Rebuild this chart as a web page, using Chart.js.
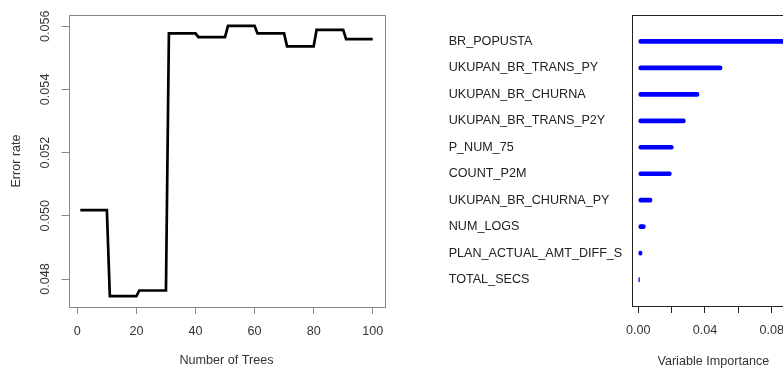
<!DOCTYPE html>
<html>
<head>
<meta charset="utf-8">
<script src="https://cdn.jsdelivr.net/npm/chart.js@4/dist/chart.umd.min.js"></script>
<style>
  html, body { margin: 0; padding: 0; background: #fff; overflow: hidden; }
  #wrap { position: relative; width: 783px; height: 370px; overflow: hidden; }
  #errChart { position: absolute; left: 0; top: 0; }
  #impChart { position: absolute; left: 390px; top: 0; }
</style>
</head>
<body>
<div id="wrap">
  <canvas id="errChart" width="390" height="370"></canvas>
  <canvas id="impChart" width="420" height="370"></canvas>
</div>
<script>
// OOB error rate for each number of trees (1..100)
const errorRate = [
    0.05018, 0.05018, 0.05018, 0.05018, 0.05018, 0.05018, 0.05018, 0.05018, 0.05018, 0.05018,
    0.04746, 0.04746, 0.04746, 0.04746, 0.04746, 0.04746, 0.04746, 0.04746, 0.04746, 0.04746,
    0.04764, 0.04764, 0.04764, 0.04764, 0.04764, 0.04764, 0.04764, 0.04764, 0.04764, 0.04764,
    0.05577, 0.05577, 0.05577, 0.05577, 0.05577, 0.05577, 0.05577, 0.05577, 0.05577, 0.05577,
    0.05565, 0.05565, 0.05565, 0.05565, 0.05565, 0.05565, 0.05565, 0.05565, 0.05565, 0.05565,
    0.05601, 0.05601, 0.05601, 0.05601, 0.05601, 0.05601, 0.05601, 0.05601, 0.05601, 0.05601,
    0.05577, 0.05577, 0.05577, 0.05577, 0.05577, 0.05577, 0.05577, 0.05577, 0.05577, 0.05577,
    0.05536, 0.05536, 0.05536, 0.05536, 0.05536, 0.05536, 0.05536, 0.05536, 0.05536, 0.05536,
    0.05588, 0.05588, 0.05588, 0.05588, 0.05588, 0.05588, 0.05588, 0.05588, 0.05588, 0.05588,
    0.05559, 0.05559, 0.05559, 0.05559, 0.05559, 0.05559, 0.05559, 0.05559, 0.05559, 0.05559
];
const treeTicks = [0, 20, 40, 60, 80, 100];
const errorTicks = [0.048, 0.050, 0.052, 0.054, 0.056];

// variable importance, top to bottom
const varNames = [
    'BR_POPUSTA', 'UKUPAN_BR_TRANS_PY', 'UKUPAN_BR_CHURNA', 'UKUPAN_BR_TRANS_P2Y',
    'P_NUM_75', 'COUNT_P2M', 'UKUPAN_BR_CHURNA_PY', 'NUM_LOGS',
    'PLAN_ACTUAL_AMT_DIFF_S', 'TOTAL_SECS'
];
const importance = [0.0900, 0.0502, 0.0364, 0.0282, 0.0210, 0.0198, 0.0082, 0.0042, 0.0022, 0.0007];
const importanceTicks = [0, 0.02, 0.04, 0.06, 0.08];

const FONT = { family: '"Liberation Sans", Arial, sans-serif', size: 12.6 };
const TEXT = '#333';

// R style box around the plot region
const boxPlugin = {
    id: 'box',
    afterDraw(chart, args, opts) {
        const a = chart.chartArea;
        const ctx = chart.ctx;
        ctx.save();
        ctx.strokeStyle = opts.color;
        ctx.lineWidth = 1;
        ctx.strokeRect(Math.round(a.left) + 0.5, Math.round(a.top) + 0.5,
            Math.round(a.right - a.left), Math.round(a.bottom - a.top));
        ctx.restore();
    }
};

// fixed axis size, and no extra room for overhanging labels
function fixSize(w, h) {
    return s => {
        if (w) s.width = w;
        if (h) s.height = h;
        s.paddingLeft = s.paddingRight = s.paddingTop = s.paddingBottom = 0;
    };
}

// pad range by 4% like R does
function rRange(lo, hi) {
    const d = (hi - lo) * 0.04;
    return [lo - d, hi + d];
}

const n = errorRate.length;
const xr = rRange(1, n);
const yr = rRange(Math.min(...errorRate), Math.max(...errorRate));

new Chart(document.getElementById('errChart'), {
    type: 'line',
    data: {
        datasets: [{
            data: errorRate.map((v, i) => ({ x: i + 1, y: v })),
            borderColor: '#000',
            borderWidth: 2.7,
            pointRadius: 0,
            tension: 0,
            fill: false
        }]
    },
    options: {
        responsive: false,
        animation: false,
        layout: { padding: { top: 15, right: 5.6, left: 0, bottom: 0 } },
        plugins: { legend: { display: false }, tooltip: { enabled: false }, box: { color: '#888' } },
        scales: {
            x: {
                type: 'linear',
                min: xr[0], max: xr[1],
                afterBuildTicks: s => { s.ticks = treeTicks.map(v => ({ value: v })); },
                afterFit: fixSize(0, 63),
                grid: { drawOnChartArea: false, tickLength: 7, color: '#888' },
                border: { display: false },
                ticks: { font: FONT, color: TEXT, padding: 10, autoSkip: false, maxRotation: 0,
                    callback: v => String(v) },
                title: { display: true, text: 'Number of Trees', font: FONT, color: TEXT,
                    padding: { top: 0, bottom: 2 } }
            },
            y: {
                type: 'linear',
                min: yr[0], max: yr[1],
                afterBuildTicks: s => { s.ticks = errorTicks.map(v => ({ value: v })); },
                afterFit: fixSize(68.6, 0),
                grid: { drawOnChartArea: false, tickLength: 7, color: '#888' },
                border: { display: false },
                ticks: { font: FONT, color: TEXT, padding: 0, autoSkip: false,
                    minRotation: 90, maxRotation: 90, crossAlign: 'center',
                    callback: v => v.toFixed(3) },
                title: { display: true, text: 'Error rate', font: FONT, color: TEXT,
                    padding: { top: 9, bottom: 0 } }
            }
        }
    },
    plugins: [boxPlugin]
});

const rows = varNames.length;
const impMax = Math.max(...importance);

new Chart(document.getElementById('impChart'), {
    type: 'bar',
    data: {
        datasets: [{
            data: importance.map((v, i) => ({ x: v, y: rows - i })),
            backgroundColor: '#0000ff',
            barThickness: 4,
            borderRadius: 2,
            borderSkipped: false
        }]
    },
    options: {
        indexAxis: 'y',
        responsive: false,
        animation: false,
        layout: { padding: { top: 15, right: 15.7, left: 58.7, bottom: 0 } },
        plugins: { legend: { display: false }, tooltip: { enabled: false }, box: { color: '#222' } },
        scales: {
            x: {
                type: 'linear',
                min: -impMax * 0.04, max: impMax * 1.04,
                afterBuildTicks: s => { s.ticks = importanceTicks.map(v => ({ value: v })); },
                afterFit: fixSize(0, 64),
                grid: { drawOnChartArea: false, tickLength: 7, color: '#222' },
                border: { display: false },
                ticks: { font: FONT, color: TEXT, padding: 10, autoSkip: false, maxRotation: 0,
                    // R drops every other label where they would crowd
                    callback: (v, i) => (i % 2 === 0 ? v.toFixed(2) : '') },
                title: { display: true, text: 'Variable Importance', font: FONT, color: TEXT,
                    padding: { top: 0, bottom: 1 } }
            },
            y: {
                type: 'linear',
                offset: false,
                min: 0, max: rows + 1,
                afterBuildTicks: s => { s.ticks = varNames.map((_, i) => ({ value: rows - i })); },
                afterFit: fixSize(183.6, 0),
                grid: { display: false, drawTicks: false },
                border: { display: false },
                ticks: { font: FONT, color: '#222', padding: 0, autoSkip: false, crossAlign: 'far',
                    callback: v => varNames[rows - v] }
            }
        }
    },
    plugins: [boxPlugin]
});
</script>
</body>
</html>
